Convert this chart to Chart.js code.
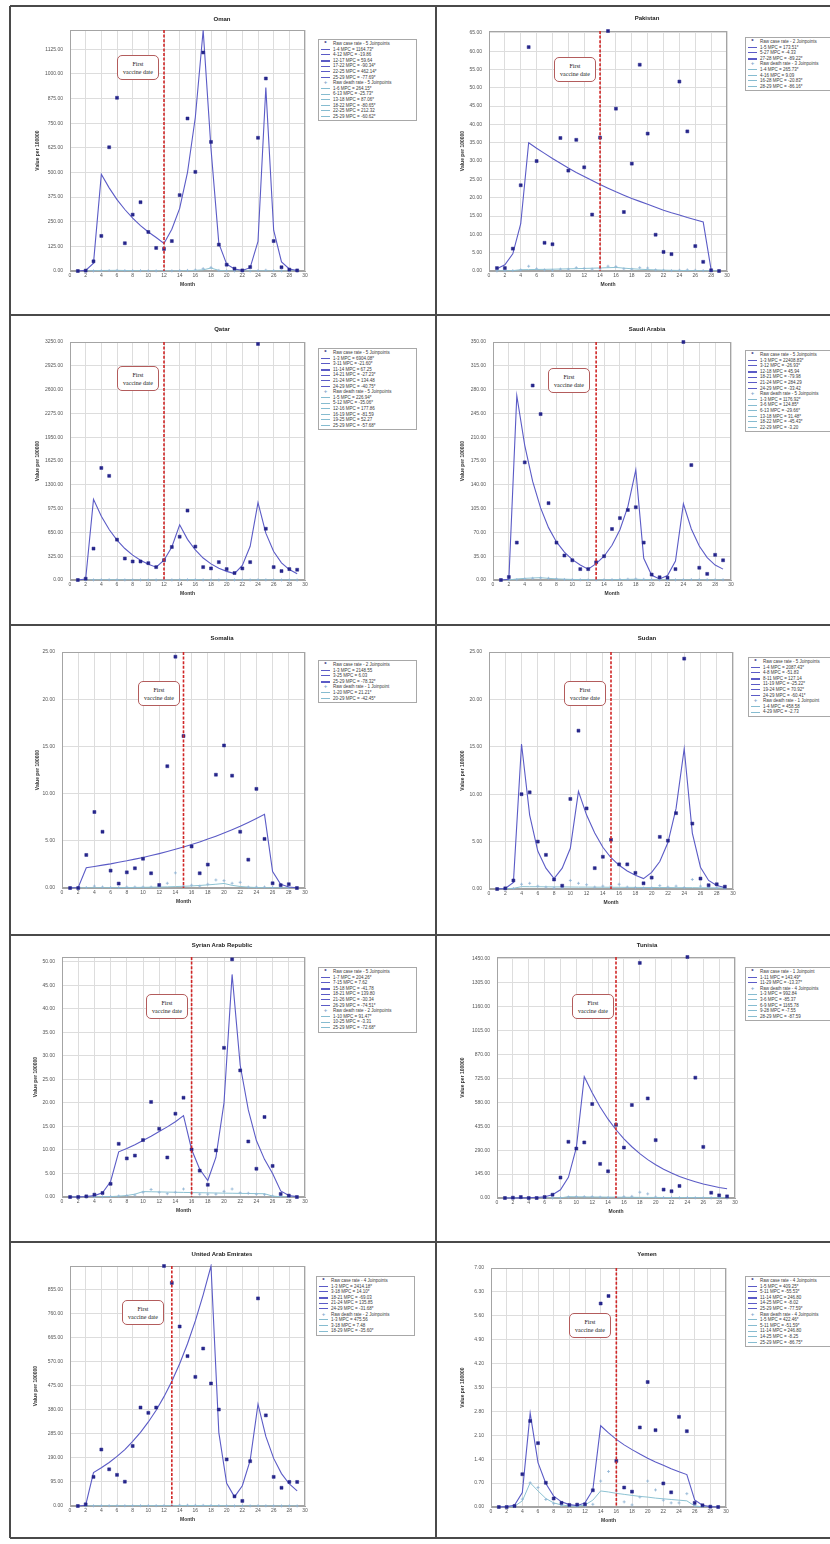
<!DOCTYPE html>
<html>
<head>
<meta charset="utf-8">
<title>Joinpoint trends of case and death rates</title>
<script src="https://cdn.jsdelivr.net/npm/chart.js@4.4.1/dist/chart.umd.min.js"></script>
<style>
  body { margin: 0; background: #fff; }
  #page { position: relative; width: 830px; height: 1544px; overflow: hidden; background: #fff; font-family: "Liberation Sans", Arial, sans-serif; }
  .rule { position: absolute; background: #4a4a4a; }
  canvas { position: absolute; }
  .ttl { position: absolute; font-weight: bold; font-size: 6px; color: #222; white-space: nowrap; transform: translate(-50%, -50%); }
  .lg { position: absolute; width: 93px; border: 1px solid #a8a8a8; background: #fff; padding: 1px 2px; font-size: 4.5px; line-height: 5.6px; color: #3a3a3a; }
  .lg div { display: flex; align-items: center; white-space: nowrap; height: 5.6px; }
  .lg i { display: inline-block; width: 9px; margin-right: 3px; flex: none; font-style: normal; }
  .lg i.ln { height: 0; border-top: 1px solid #5b5bc6; }
  .lg i.ln.dth { border-top-color: #86bcd0; }
  .lg i.ln.thick { border-top-width: 2px; }
  .lg i.sym { text-align: center; font-weight: bold; font-size: 6px; color: #1f1f7a; }
  .lg i.sym.dth { color: #7fa8cc; }
  .vb { position: absolute; width: 42px; height: 25px; box-sizing: border-box; border: 1px solid #b35c5c; border-radius: 5px; background: #fff; font-family: "Liberation Serif", "Times New Roman", serif; font-size: 6px; line-height: 8.4px; padding-top: 4px; text-align: center; color: #222; }
</style>
</head>
<body>
<div id="page"></div>
<script>
/* ---------- Data ---------- */
const months = [1, 2, 3, 4, 5, 6, 7, 8, 9, 10, 11, 12, 13, 14, 15, 16, 17, 18, 19, 20, 21, 22, 23, 24, 25, 26, 27, 28, 29];

const omanCases = [0, 2, 49, 178, 628, 879, 141, 286, 349, 198, 117, 112, 152, 385, 774, 503, 1109, 655, 134, 32, 12, 3, 20, 676, 977, 152, 19, 7, 3];
const omanCaseFit = [0.3, 3, 40, 491, 422, 362, 312, 268, 230, 198, 170, 140, 212, 318, 500, 780, 1222, 620, 140, 35, 10, 3, 17, 150, 931, 207, 46, 10, 2.3];
const omanDeaths = [0, 0.1, 0.4, 1.2, 2.5, 3, 2, 1.5, 1.8, 1.2, 0.8, 0.6, 0.8, 2, 3, 5, 12, 18, 3, 1, 0.3, 0.1, 0.2, 2, 4, 2, 0.5, 0.2, 0.1];
const omanDeathFit = [0.1, 0.4, 1.3, 2.5, 3, 3.4, 2.6, 1.9, 1.4, 1.0, 0.8, 0.6, 0.45, 0.9, 1.7, 3.2, 6, 15, 3.1, 0.6, 0.12, 0.03, 0.1, 0.3, 0.9, 0.36, 0.14, 0.05, 0.02];
const omanLegend = ['Raw case rate - 5 Joinpoints', '1-4 MPC = 1164.73*', '4-12 MPC = -19.86', '12-17 MPC = 59.64', '17-22 MPC = -90.34*', '22-25 MPC = 462.14*', '25-29 MPC = -77.69*',
  'Raw death rate - 5 Joinpoints', '1-6 MPC = 264.15*', '6-13 MPC = -25.73*', '13-18 MPC = 87.06*', '18-22 MPC = -80.65*', '22-25 MPC = 212.32', '25-29 MPC = -60.62*'];

const pakCases = [0.8, 0.8, 6.1, 23.4, 61.1, 30.0, 7.7, 7.3, 36.3, 27.4, 35.8, 28.3, 15.4, 36.4, 65.5, 44.3, 16.1, 29.3, 56.3, 37.5, 9.9, 5.2, 4.6, 51.7, 38.1, 6.8, 2.5, 0.2, 0];
const pakCaseFit = [0.6, 1.7, 4.7, 12.9, 35.0, 33.5, 32.1, 30.7, 29.4, 28.1, 26.9, 25.8, 24.7, 23.6, 22.6, 21.6, 20.7, 19.8, 19.0, 18.2, 17.4, 16.6, 15.9, 15.3, 14.6, 14.0, 13.4, 0.3];
const pakDeaths = [0.02, 0.05, 0.1, 0.3, 1.3, 0.6, 0.3, 0.2, 0.5, 0.5, 0.9, 0.7, 0.5, 0.6, 1.3, 1.2, 0.6, 0.5, 0.9, 0.8, 0.3, 0.2, 0.1, 0.2, 0.3, 0.2, 0.1, 0.05, 0.02];
const pakDeathFit = [0.01, 0.03, 0.1, 0.35, 0.38, 0.42, 0.45, 0.49, 0.54, 0.59, 0.64, 0.7, 0.76, 0.83, 0.9, 0.98, 0.78, 0.61, 0.49, 0.38, 0.3, 0.24, 0.19, 0.15, 0.12, 0.095, 0.075, 0.06, 0.008];
const pakLegend = ['Raw case rate - 2 Joinpoints', '1-5 MPC = 173.51*', '5-27 MPC = -4.33', '27-28 MPC = -89.22*',
  'Raw death rate - 3 Joinpoints', '1-4 MPC = 265.73*', '4-16 MPC = 9.09', '16-28 MPC = -20.83*', '28-29 MPC = -86.16*'];

const qatarCases = [0, 18, 429, 1530, 1422, 551, 293, 253, 253, 230, 176, 271, 451, 591, 948, 456, 176, 158, 244, 149, 95, 158, 244, 3223, 700, 176, 122, 149, 140];
const qatarCaseFit = [0.2, 14, 1101, 870, 690, 545, 430, 340, 270, 215, 175, 270, 450, 754, 555, 410, 300, 220, 160, 118, 88, 200, 460, 1056, 640, 390, 235, 142, 86];
const qatarDeaths = [0, 0.1, 1, 3, 3.5, 2, 1, 0.8, 0.8, 0.6, 0.5, 0.7, 1.5, 2.5, 4, 3, 1, 0.5, 0.4, 0.5, 0.6, 0.8, 1, 3, 2, 1, 0.6, 0.4, 0.3];
const qatarDeathFit = [0.03, 0.1, 0.3, 1.0, 3.3, 2.1, 1.4, 0.9, 0.6, 0.38, 0.25, 0.16, 0.44, 1.2, 3.4, 5, 0.9, 0.17, 0.03, 0.05, 0.07, 0.1, 0.16, 0.24, 0.37, 0.16, 0.07, 0.03, 0.012];
const qatarLegend = ['Raw case rate - 5 Joinpoints', '1-3 MPC = 6904.08*', '3-11 MPC = -21.60*', '11-14 MPC = 67.25', '14-21 MPC = -27.23*', '21-24 MPC = 134.48', '24-29 MPC = -40.75*',
  'Raw death rate - 5 Joinpoints', '1-5 MPC = 226.94*', '5-12 MPC = -35.06*', '12-16 MPC = 177.86', '16-19 MPC = -81.59', '19-25 MPC = 52.27', '25-29 MPC = -57.68*'];

const saudiCases = [0, 4.4, 55, 173, 286, 244, 113, 55, 36, 29, 16, 16, 26, 35, 75, 91, 103, 107, 55, 8, 4, 3.4, 16, 350, 169, 18, 9, 37, 29];
const saudiCaseFit = [0.01, 1, 271, 198, 145, 106, 77, 56, 41, 30, 22, 16, 24, 35, 51, 74, 108, 162, 32, 7, 1.5, 6.5, 28, 112, 75, 50, 33, 22, 16];
const saudiDeaths = [0, 0.05, 0.6, 1.5, 2.5, 3, 2.5, 1.5, 0.8, 0.5, 0.3, 0.2, 0.2, 0.3, 0.5, 0.8, 1.2, 1.5, 1, 0.5, 0.3, 0.2, 0.2, 0.4, 0.6, 0.5, 0.4, 0.3, 0.3];
const saudiDeathFit = [0.01, 0.12, 1.5, 2.4, 3.0, 3.4, 2.4, 1.7, 1.2, 0.84, 0.59, 0.42, 0.29, 0.39, 0.51, 0.67, 0.88, 1.15, 0.63, 0.34, 0.19, 0.1, 0.1, 0.1, 0.09, 0.09, 0.09, 0.08, 0.08];
const saudiLegend = ['Raw case rate - 5 Joinpoints', '1-3 MPC = 22408.83*', '3-12 MPC = -26.93*', '12-18 MPC = 45.94', '18-21 MPC = -79.98', '21-24 MPC = 284.29', '24-29 MPC = -33.42',
  'Raw death rate - 5 Joinpoints', '1-3 MPC = 1176.92*', '3-6 MPC = 124.85*', '6-13 MPC = -29.66*', '13-18 MPC = 31.48*', '18-22 MPC = -45.43*', '22-29 MPC = -3.20'];

const somaliaCases = [0, 0, 3.5, 8.05, 5.96, 1.84, 0.47, 1.66, 2.09, 3.1, 1.56, 0.32, 12.9, 24.5, 16.1, 4.4, 1.56, 2.48, 12.0, 15.1, 11.9, 5.96, 3.0, 10.5, 5.2, 0.5, 0.3, 0.4, 0];
const somaliaCaseFit = [0, 0.05, 2.15, 2.28, 2.42, 2.56, 2.72, 2.88, 3.06, 3.24, 3.44, 3.64, 3.86, 4.1, 4.34, 4.6, 4.88, 5.18, 5.49, 5.82, 6.17, 6.54, 6.94, 7.36, 7.8, 1.74, 0.4, 0.1, 0.02];
const somaliaDeaths = [0, 0, 0.05, 0.2, 0.1, 0.05, 0.05, 0.1, 0.1, 0.1, 0.1, 0.2, 0.5, 1.6, 0.2, 0.3, 0.2, 0.4, 0.85, 0.78, 0.5, 0.6, 0.1, 0.1, 0.1, 0.05, 0.05, 0.02, 0];
const somaliaDeathFit = [0.012, 0.015, 0.018, 0.022, 0.027, 0.033, 0.04, 0.048, 0.058, 0.07, 0.085, 0.1, 0.12, 0.15, 0.18, 0.22, 0.27, 0.33, 0.4, 0.48, 0.28, 0.16, 0.09, 0.05, 0.03, 0.02, 0.01, 0.006, 0.003];
const somaliaLegend = ['Raw case rate - 2 Joinpoints', '1-3 MPC = 2148.55', '3-25 MPC = 6.03', '25-29 MPC = -78.32*',
  'Raw death rate - 1 Joinpoint', '1-20 MPC = 21.21*', '20-29 MPC = -42.45*'];

const sudanCases = [0, 0.07, 0.9, 10.0, 10.2, 5.0, 3.6, 1.0, 0.35, 9.5, 16.7, 8.5, 2.2, 3.4, 5.2, 2.6, 2.6, 1.7, 0.6, 1.2, 5.5, 5.1, 8.0, 24.3, 6.9, 1.1, 0.4, 0.5, 0.25];
const sudanCaseFit = [0.01, 0.05, 0.7, 15.3, 7.8, 4.0, 2.2, 1.1, 2.2, 4.3, 10.3, 7.8, 5.9, 4.4, 3.3, 2.5, 1.9, 1.45, 1.1, 1.75, 2.9, 4.9, 8.5, 14.8, 5.9, 2.3, 0.9, 0.37, 0.15];
const sudanDeaths = [0, 0, 0.05, 0.5, 0.6, 0.3, 0.2, 0.1, 0.1, 0.9, 0.6, 0.45, 0.2, 0.3, 0.3, 0.5, 0.2, 0.15, 0.1, 0.1, 0.35, 0.2, 0.3, 0.15, 1.0, 0.3, 0.15, 0.1, 0.05];
const sudanDeathFit = [0.005, 0.02, 0.07, 0.25, 0.24, 0.24, 0.23, 0.22, 0.22, 0.21, 0.2, 0.2, 0.19, 0.19, 0.18, 0.18, 0.17, 0.17, 0.16, 0.16, 0.15, 0.15, 0.14, 0.14, 0.14, 0.13, 0.13, 0.12, 0.12];
const sudanLegend = ['Raw case rate - 5 Joinpoints', '1-4 MPC = 2087.43*', '4-8 MPC = -51.83', '8-11 MPC = 127.14', '11-19 MPC = -25.22*', '19-24 MPC = 70.92*', '24-29 MPC = -60.41*',
  'Raw death rate - 1 Joinpoint', '1-4 MPC = 458.58', '4-29 MPC = -2.73'];

const syriaCases = [0, 0, 0.14, 0.5, 0.85, 2.8, 11.3, 8.2, 8.8, 12.1, 20.2, 14.5, 8.4, 17.7, 21.1, 10.1, 5.6, 2.6, 9.9, 31.7, 50.5, 26.9, 11.8, 6.0, 17.0, 6.6, 0.64, 0.3, 0];
const syriaCaseFit = [0, 0.03, 0.1, 0.3, 0.9, 3.3, 9.6, 10.3, 11.1, 12.0, 12.9, 13.9, 14.9, 16.0, 17.3, 10.1, 5.9, 3.5, 8.4, 20, 47.3, 28, 18.5, 12, 8, 5.0, 1.3, 0.33, 0.08];
const syriaDeaths = [0, 0, 0, 0.02, 0.05, 0.1, 0.2, 0.3, 0.4, 1.0, 1.6, 1.0, 0.7, 1.0, 1.7, 0.8, 0.6, 0.6, 0.6, 1.2, 1.7, 0.9, 0.8, 0.6, 0.5, 0.2, 0.1, 0.05, 0.01];
const syriaDeathFit = [0.003, 0.006, 0.012, 0.02, 0.05, 0.09, 0.17, 0.32, 0.6, 1.15, 1.11, 1.08, 1.04, 1.01, 0.97, 0.94, 0.91, 0.88, 0.85, 0.82, 0.8, 0.77, 0.75, 0.72, 0.7, 0.19, 0.05, 0.014, 0.004];
const syriaLegend = ['Raw case rate - 5 Joinpoints', '1-7 MPC = 204.26*', '7-15 MPC = 7.62', '15-18 MPC = -41.78', '18-21 MPC = 139.80', '21-26 MPC = -30.34', '26-29 MPC = -74.51*',
  'Raw death rate - 2 Joinpoints', '1-10 MPC = 91.47*', '10-25 MPC = -3.31', '25-29 MPC = -72.68*'];

const tunisiaCases = [0, 2, 6, 0, 0, 6, 20, 124, 341, 300, 337, 570, 207, 162, 444, 306, 564, 1426, 604, 351, 51, 41, 73, 1462, 730, 310, 32, 16, 10];
const tunisiaCaseFit = [0.1, 0.3, 0.6, 1.5, 3.5, 8, 20, 50, 125, 305, 736, 638, 552, 478, 414, 359, 311, 269, 233, 202, 175, 152, 131, 114, 99, 85, 74, 64, 56];
const tunisiaDeaths = [0, 0, 0.1, 0, 0, 0.1, 0.3, 1.5, 6, 8, 8, 8, 5, 3, 5, 8, 10, 35, 25, 6, 3, 2, 1.5, 3, 1, 0.8, 0.5, 0.3, 0.1];
const tunisiaDeathFit = [0.002, 0.02, 0.2, 0.03, 0.005, 0.004, 0.05, 0.6, 8, 7.4, 6.8, 6.3, 5.8, 5.4, 5.0, 4.6, 4.3, 3.9, 3.6, 3.4, 3.1, 2.9, 2.7, 2.5, 2.3, 2.1, 1.9, 1.8, 0.22];
const tunisiaLegend = ['Raw case rate - 1 Joinpoint', '1-11 MPC = 143.49*', '11-29 MPC = -13.37*',
  'Raw death rate - 4 Joinpoints', '1-3 MPC = 992.84', '3-6 MPC = -85.37', '6-9 MPC = 1165.78', '9-28 MPC = -7.55', '28-29 MPC = -87.59'];

const uaeCases = [0, 6.6, 115, 223, 145, 123, 96, 237, 389, 368, 389, 948, 881, 709, 592, 510, 622, 484, 381, 184, 38, 20, 177, 820, 358, 115, 72, 95, 95];
const uaeCaseFit = [0.2, 3, 132, 151, 172, 196, 223, 255, 291, 332, 378, 432, 493, 562, 641, 731, 834, 948, 290, 90, 36, 80, 180, 402, 275, 188, 128, 87, 60];
const uaeDeaths = [0, 0.05, 0.5, 1, 1, 1, 1, 1, 1.2, 1.3, 1.4, 1.5, 2.5, 3, 3, 2.5, 2.5, 2, 1.5, 0.6, 0.3, 0.3, 0.4, 1, 0.8, 0.4, 0.3, 0.2, 0.2];
const uaeDeathFit = [0.02, 0.12, 0.7, 0.75, 0.8, 0.87, 0.93, 1.0, 1.08, 1.16, 1.25, 1.34, 1.44, 1.55, 1.66, 1.79, 1.92, 2.07, 1.33, 0.86, 0.55, 0.36, 0.23, 0.15, 0.1, 0.06, 0.04, 0.025, 0.016];
const uaeLegend = ['Raw case rate - 4 Joinpoints', '1-3 MPC = 2414.18*', '3-18 MPC = 14.10*', '18-21 MPC = -69.03', '21-24 MPC = 135.85', '24-29 MPC = -31.68*',
  'Raw death rate - 2 Joinpoints', '1-3 MPC = 475.56', '3-18 MPC = 7.48', '18-29 MPC = -35.60*'];

const yemenCases = [0, 0, 0.03, 0.96, 2.52, 1.87, 0.71, 0.25, 0.12, 0.06, 0.07, 0.08, 0.49, 5.96, 6.18, 1.35, 0.57, 0.45, 2.33, 3.66, 2.25, 0.69, 0.43, 2.64, 2.22, 0.12, 0.05, 0.01, 0];
const yemenCaseFit = [0, 0.01, 0.05, 0.42, 2.75, 1.3, 0.69, 0.32, 0.15, 0.07, 0.04, 0.12, 0.5, 2.38, 2.17, 1.98, 1.82, 1.68, 1.55, 1.43, 1.32, 1.22, 1.12, 1.03, 0.95, 0.21, 0.05, 0.01, 0];
const yemenDeaths = [0, 0, 0.02, 0.23, 0.71, 0.57, 0.22, 0.1, 0.04, 0.02, 0.02, 0.03, 0.08, 0.76, 1.04, 0.47, 0.15, 0.06, 0.29, 0.76, 0.5, 0.2, 0.12, 0.12, 0.39, 0.05, 0.02, 0.01, 0];
const yemenDeathFit = [0, 0.005, 0.02, 0.18, 0.71, 0.47, 0.25, 0.12, 0.06, 0.03, 0.02, 0.06, 0.2, 0.47, 0.44, 0.4, 0.37, 0.34, 0.31, 0.29, 0.26, 0.24, 0.22, 0.2, 0.18, 0.03, 0.005, 0.001, 0];
const yemenLegend = ['Raw case rate - 4 Joinpoints', '1-5 MPC = 409.25*', '5-11 MPC = -55.53*', '11-14 MPC = 246.80', '14-25 MPC = -8.02', '25-29 MPC = -77.59*',
  'Raw death rate - 4 Joinpoints', '1-5 MPC = 422.46*', '5-11 MPC = -51.59*', '11-14 MPC = 246.80', '14-25 MPC = -8.25', '25-29 MPC = -86.75*'];

/* ---------- Panel layout ---------- */
const rowTops = [6, 315, 625, 935, 1242];
const colLeft = [12, 437];
const titleCenter = [222, 647];

const panels = [
  { name: 'Oman', cases: omanCases, caseFit: omanCaseFit, deaths: omanDeaths, deathFit: omanDeathFit, legend: omanLegend,
    vaccine: 12, yMax: 1223, yStep: 125, row: 0, col: 0, plot: [70, 305, 30, 271], titleY: 19, yTitleX: 37.7, legendAt: [318, 39], boxAt: [117, 55] },
  { name: 'Pakistan', cases: pakCases, caseFit: pakCaseFit, deaths: pakDeaths, deathFit: pakDeathFit, legend: pakLegend,
    vaccine: 14, yMax: 65.5, yStep: 5, row: 0, col: 1, plot: [489, 727, 31, 271], titleY: 18, yTitleX: 463, legendAt: [745, 37], boxAt: [554, 57] },
  { name: 'Qatar', cases: qatarCases, caseFit: qatarCaseFit, deaths: qatarDeaths, deathFit: qatarDeathFit, legend: qatarLegend,
    vaccine: 12, yMax: 3250, yStep: 325, row: 1, col: 0, plot: [70, 305, 342, 580], titleY: 329, yTitleX: 37.7, legendAt: [318, 348], boxAt: [117, 366] },
  { name: 'Saudi Arabia', cases: saudiCases, caseFit: saudiCaseFit, deaths: saudiDeaths, deathFit: saudiDeathFit, legend: saudiLegend,
    vaccine: 13, yMax: 350, yStep: 35, row: 1, col: 1, plot: [493, 731, 342, 580], titleY: 329, yTitleX: 463, legendAt: [745, 350], boxAt: [548, 368] },
  { name: 'Somalia', cases: somaliaCases, caseFit: somaliaCaseFit, deaths: somaliaDeaths, deathFit: somaliaDeathFit, legend: somaliaLegend,
    vaccine: 15, yMax: 25, yStep: 5, row: 2, col: 0, plot: [62, 305, 652, 888], titleY: 638, yTitleX: 37.7, legendAt: [318, 660], boxAt: [138, 681] },
  { name: 'Sudan', cases: sudanCases, caseFit: sudanCaseFit, deaths: sudanDeaths, deathFit: sudanDeathFit, legend: sudanLegend,
    vaccine: 15, yMax: 25, yStep: 5, row: 2, col: 1, plot: [489, 733, 652, 889], titleY: 638, yTitleX: 463, legendAt: [748, 657], boxAt: [564, 681] },
  { name: 'Syrian Arab Republic', cases: syriaCases, caseFit: syriaCaseFit, deaths: syriaDeaths, deathFit: syriaDeathFit, legend: syriaLegend,
    vaccine: 16, yMax: 51, yStep: 5, row: 3, col: 0, plot: [62, 305, 957, 1197], titleY: 945, yTitleX: 35.7, legendAt: [318, 967], boxAt: [146, 994] },
  { name: 'Tunisia', cases: tunisiaCases, caseFit: tunisiaCaseFit, deaths: tunisiaDeaths, deathFit: tunisiaDeathFit, legend: tunisiaLegend,
    vaccine: 15, yMax: 1462, yStep: 145, row: 3, col: 1, plot: [497, 735, 957, 1198], titleY: 945, yTitleX: 463, legendAt: [745, 967], boxAt: [572, 994] },
  { name: 'United Arab Emirates', cases: uaeCases, caseFit: uaeCaseFit, deaths: uaeDeaths, deathFit: uaeDeathFit, legend: uaeLegend,
    vaccine: 13, yMax: 948, yStep: 95, row: 4, col: 0, plot: [70, 305, 1266, 1506], titleY: 1254, yTitleX: 35.7, legendAt: [316, 1276], boxAt: [122, 1300] },
  { name: 'Yemen', cases: yemenCases, caseFit: yemenCaseFit, deaths: yemenDeaths, deathFit: yemenDeathFit, legend: yemenLegend,
    vaccine: 16, yMax: 7, yStep: 0.7, row: 4, col: 1, plot: [491, 726, 1268, 1507], titleY: 1254, yTitleX: 463, legendAt: [745, 1276], boxAt: [569, 1313] },
];

/* ---------- Plugins ---------- */
const framePlugin = {
  id: 'frame',
  beforeDatasetsDraw(chart) {
    const { ctx, chartArea: a } = chart;
    ctx.save();
    ctx.strokeStyle = '#a4a4a4';
    ctx.lineWidth = 1;
    ctx.strokeRect(Math.round(a.left) + 0.5, Math.round(a.top) + 0.5, Math.round(a.width) - 1, Math.round(a.height) - 1);
    ctx.restore();
  },
};

const vaccinePlugin = {
  id: 'vaccine',
  afterDatasetsDraw(chart, args, opts) {
    const { ctx, chartArea: a, scales } = chart;
    const x = scales.x.getPixelForValue(opts.month);
    ctx.save();
    ctx.strokeStyle = '#d02626';
    ctx.lineWidth = 1.6;
    ctx.setLineDash([3, 1.6]);
    ctx.beginPath();
    ctx.moveTo(x, a.top);
    ctx.lineTo(x, a.bottom);
    ctx.stroke();
    ctx.restore();
  },
};

/* ---------- Build ---------- */
const page = document.getElementById('page');
Chart.defaults.font.family = '"Liberation Sans", Arial, sans-serif';

function rule(x, y, w, h) {
  const d = document.createElement('div');
  d.className = 'rule';
  Object.assign(d.style, { left: x + 'px', top: y + 'px', width: w + 'px', height: h + 'px' });
  page.appendChild(d);
}

[6, 315, 625, 935, 1242, 1538].forEach(y => rule(10, y - 0.75, 820, 1.5));
[10, 436].forEach(x => rule(x - 0.75, 6, 1.5, 1532));

function buildLegend(p) {
  const box = document.createElement('div');
  box.className = 'lg';
  box.style.left = p.legendAt[0] + 'px';
  box.style.top = p.legendAt[1] + 'px';
  let inDeaths = false;
  let caseLine = 0;
  p.legend.forEach(txt => {
    const row = document.createElement('div');
    const mark = document.createElement('i');
    if (txt.startsWith('Raw case')) {
      mark.className = 'sym';
      mark.textContent = '*';
    } else if (txt.startsWith('Raw death')) {
      inDeaths = true;
      mark.className = 'sym dth';
      mark.textContent = '+';
    } else if (inDeaths) {
      mark.className = 'ln dth';
    } else {
      caseLine++;
      mark.className = caseLine === 3 ? 'ln thick' : 'ln';
    }
    row.appendChild(mark);
    row.appendChild(document.createTextNode(txt));
    box.appendChild(row);
  });
  page.appendChild(box);
}

function buildPanel(p) {
  const x0 = colLeft[p.col];
  const top = rowTops[p.row] + 2;
  const [pl, pr, pt, pb] = p.plot;
  const w = pr - x0 + 8;
  const h = pb + 26 - top;

  const canvas = document.createElement('canvas');
  canvas.width = w;
  canvas.height = h;
  Object.assign(canvas.style, { left: x0 + 'px', top: top + 'px', width: w + 'px', height: h + 'px' });
  page.appendChild(canvas);

  const pts = arr => arr.map((v, i) => ({ x: months[i], y: v }));
  const grid = { color: '#dddddd', drawTicks: false };
  const tickFont = { size: 5 };
  const titleFont = { size: 5, weight: 'bold' };

  new Chart(canvas, {
    type: 'line',
    data: {
      datasets: [
        { label: 'Raw case rate', data: pts(p.cases), showLine: false, pointStyle: 'rect', pointRadius: 2.1,
          pointBackgroundColor: '#25258a', pointBorderColor: '#25258a', pointBorderWidth: 0.5, clip: 6 },
        { label: 'Case fit', data: pts(p.caseFit), borderColor: '#5b5bc6', borderWidth: 1.1, pointRadius: 0, tension: 0, clip: 2 },
        { label: 'Raw death rate', data: pts(p.deaths), showLine: false, pointStyle: 'cross', pointRadius: 1.5,
          pointBorderColor: '#8fb4d4', pointBorderWidth: 0.8, clip: 6 },
        { label: 'Death fit', data: pts(p.deathFit), borderColor: '#8cc2d2', borderWidth: 1, pointRadius: 0, tension: 0 },
      ],
    },
    options: {
      responsive: false,
      animation: false,
      devicePixelRatio: 1,
      layout: { padding: { top: pt - top, right: 8, left: 0, bottom: 0 } },
      plugins: { legend: { display: false }, tooltip: { enabled: false }, vaccine: { month: p.vaccine } },
      scales: {
        x: {
          type: 'linear', min: 0, max: 30,
          ticks: { stepSize: 2, autoSkip: false, maxRotation: 0, padding: 2, color: '#555', font: tickFont },
          grid, border: { color: '#a4a4a4' },
          title: { display: true, text: 'Month', color: '#333', font: titleFont, padding: { top: 0, bottom: 9 } },
          afterFit(scale) { scale.height = 26; },
        },
        y: {
          min: 0, max: p.yMax,
          ticks: { autoSkip: false, padding: 7, color: '#555', font: tickFont, callback: v => v.toFixed(2) },
          grid, border: { color: '#a4a4a4' },
          title: { display: true, text: 'Value per 100000', color: '#333', font: titleFont, padding: { top: p.yTitleX - x0 - 3, bottom: 0 } },
          afterBuildTicks(scale) {
            const ticks = [];
            for (let i = 0; i * p.yStep <= p.yMax + 1e-9; i++) ticks.push({ value: Math.round(i * p.yStep * 1000) / 1000 });
            scale.ticks = ticks;
          },
          afterFit(scale) { scale.width = pl - x0; },
        },
      },
    },
    plugins: [framePlugin, vaccinePlugin],
  });

  const ttl = document.createElement('div');
  ttl.className = 'ttl';
  ttl.textContent = p.name;
  ttl.style.left = titleCenter[p.col] + 'px';
  ttl.style.top = p.titleY + 'px';
  page.appendChild(ttl);

  const vb = document.createElement('div');
  vb.className = 'vb';
  vb.style.left = p.boxAt[0] + 'px';
  vb.style.top = p.boxAt[1] + 'px';
  vb.innerHTML = 'First<br>vaccine date';
  page.appendChild(vb);

  buildLegend(p);
}

panels.forEach(buildPanel);
</script>
</body>
</html>
